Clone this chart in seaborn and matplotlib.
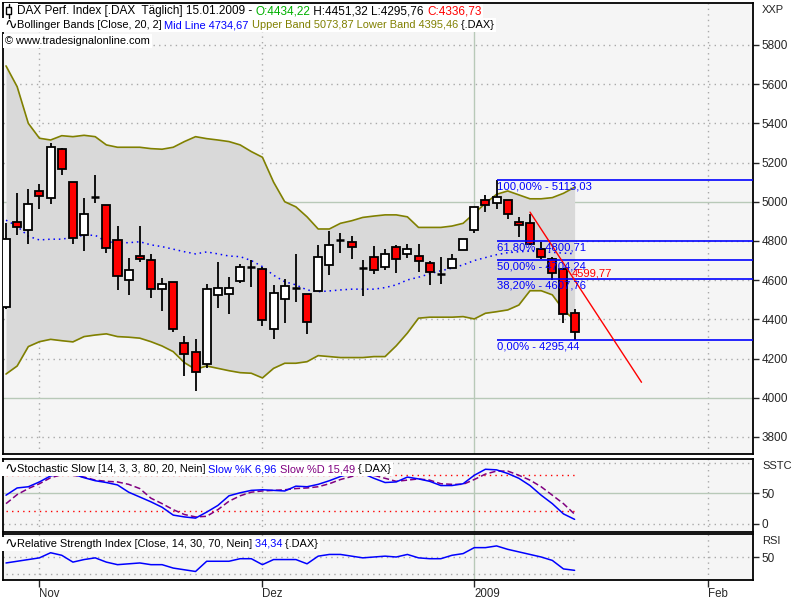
import numpy as np
import pandas as pd
import matplotlib
matplotlib.use("Agg")
import matplotlib.pyplot as plt
import seaborn as sns
from matplotlib.patches import Rectangle
from matplotlib.lines import Line2D

sns.set_style("white")
plt.rcParams['font.family'] = ['Liberation Sans', 'DejaVu Sans']

# ---------------- data (trading days 29.10.2008 .. 15.01.2009) ----------------
opens = [4463, 4897, 4855, 5054, 5018, 5268, 5099, 4829, 5023, 4982,
         4804, 4600, 4722, 4702, 4557, 4589, 4278, 4232, 4171, 4523,
         4528, 4594, 4668, 4656, 4350, 4506, 4562, 4528, 4547, 4676,
         4807, 4793, 4664, 4719, 4666, 4768, 4732, 4724, 4690, 4633,
         4661, 4752, 4857, 5009, 4992, 5009, 4897, 4894, 4761, 4706,
         4656, 4434.22]
highs = [4892, 5043, 5064, 5089, 5298, 5272, 5102, 5018, 5137, 4985,
         4877, 4712, 4877, 4732, 4610, 4589, 4313, 4298, 4581, 4693,
         4615, 4683, 4702, 4666, 4575, 4604, 4733, 4530, 4780, 4852,
         4843, 4825, 4703, 4776, 4758, 4780, 4785, 4785, 4700, 4717,
         4732, 4809, 4972, 5035, 5113, 5009, 4920, 4937, 4795, 4720,
         4660, 4451.32]
lows = [4455, 4829, 4783, 4965, 4991, 5137, 4783, 4751, 4996, 4740,
        4552, 4526, 4694, 4511, 4444, 4337, 4113, 4036, 4154, 4457,
        4426, 4587, 4567, 4368, 4302, 4380, 4490, 4324, 4545, 4624,
        4740, 4708, 4521, 4630, 4653, 4639, 4715, 4642, 4573, 4581,
        4661, 4752, 4839, 4947, 4961, 4914, 4818, 4780, 4706, 4601,
        4380, 4295.76]
closes = [4809, 4872, 4987, 5028, 5278, 5166, 4814, 4937, 5023, 4763,
          4620, 4651, 4710, 4557, 4579, 4353, 4222, 4130, 4554, 4559,
          4559, 4666, 4668, 4395, 4533, 4570, 4562, 4385, 4717, 4778,
          4807, 4767, 4664, 4654, 4732, 4707, 4759, 4697, 4640, 4633,
          4706, 4809, 4972, 4983, 5023, 4937, 4882, 4785, 4720, 4635,
          4426, 4336.73]
upper_band = [5693, 5587, 5400, 5324, 5315, 5337, 5332, 5339, 5332, 5290,
              5278, 5278, 5278, 5271, 5268, 5278, 5307, 5332, 5322, 5315,
              5307, 5290, 5256, 5227, 5100, 5000, 4974, 4923, 4861, 4861,
              4890, 4903, 4920, 4927, 4933, 4933, 4923, 4869, 4869, 4869,
              4876, 4890, 4941, 4992, 5038, 5055, 5035, 5015, 5015, 5021,
              5043, 5073.87]
mid_line = [4906, 4875, 4824, 4805, 4809, 4809, 4819, 4829, 4829, 4796,
            4791, 4791, 4796, 4780, 4771, 4758, 4745, 4734, 4744, 4734,
            4723, 4720, 4700, 4669, 4625, 4592, 4576, 4550, 4541, 4545,
            4550, 4554, 4554, 4554, 4562, 4576, 4601, 4615, 4632, 4648,
            4661, 4678, 4700, 4715, 4730, 4740, 4745, 4748, 4745, 4742,
            4738, 4734.67]
lower_band = [4121, 4162, 4261, 4286, 4298, 4291, 4285, 4312, 4320, 4326,
              4312, 4309, 4304, 4286, 4264, 4235, 4179, 4145, 4162, 4150,
              4138, 4128, 4125, 4101, 4150, 4176, 4176, 4184, 4215, 4210,
              4205, 4205, 4205, 4210, 4210, 4265, 4330, 4406, 4411, 4411,
              4411, 4414, 4402, 4431, 4439, 4448, 4473, 4546, 4546, 4525,
              4448, 4395.46]
slow_k = [47, 59, 61, 69, 79, 82, 82, 76, 71, 68,
          64, 52, 44, 36, 27, 14, 11, 9, 19, 30,
          46, 51, 55, 56, 55, 54, 62, 61, 65, 71,
          78, 83, 83, 75, 68, 69, 77, 74, 70, 63,
          63, 66, 80, 90, 89, 83, 75, 63, 47, 33,
          16, 6.96]
slow_d = [33, 48, 58, 66, 76, 81, 80, 77, 72, 70,
          69, 65, 58, 42, 33, 23, 15, 11, 12, 23,
          37, 46, 52, 54, 55, 56, 58, 59, 61, 66,
          73, 78, 83, 80, 75, 70, 72, 74, 72, 66,
          65, 65, 73, 82, 87, 87, 80, 72, 61, 47,
          33, 15.49]
rsi = [43, 45, 47, 49, 55, 52, 44, 47, 49, 44,
       41, 42, 43, 41, 41, 37, 35, 33, 45, 45,
       45, 48, 48, 41, 47, 47, 47, 42, 51, 53,
       53, 51, 49, 50, 51, 50, 53, 49, 48, 48,
       52, 54, 61, 61, 63, 59, 56, 53, 50, 46,
       36, 34.34]

month_ticks = [3, 23, 42, 63]
month_labels = ["Nov", "Dez", "2009", "Feb"]

fib_levels = [5113.03, 4800.71, 4704.24, 4607.76, 4295.44]
fib_labels = ["100,00% - 5113,03", "61,80% - 4800,71", "50,00% - 4704,24",
              "38,20% - 4607,76", "0,00% - 4295,44"]
fib_start = 44
trend_x = [47, 57]
trend_y = [4947, 4079]
trend_label = "4599,77"
trend_label_pos = (50.7, 4634)

price_ticks = list(range(3800, 5801, 200))

# ---------------- figure ----------------
W, H = 800, 600
fig = plt.figure(figsize=(8, 6), dpi=100)
fig.patch.set_facecolor("white")

def axes_px(left, top, right, bottom):
    return fig.add_axes([left / W, 1 - bottom / H, (right - left) / W, (bottom - top) / H])

ax = axes_px(3, 3, 753, 454)
ax_st = axes_px(3, 459, 753, 532)
ax_rsi = axes_px(3, 534, 753, 580)

BG = "#f5f5f5"
DOT = (0, (1, 3))
GRID_DOT = "#a9a9a9"
GRID_SOLID = "#b8c9b8"
XLIM = (-0.27, 67.0)

idx = np.arange(len(closes))
df = pd.DataFrame({"i": idx, "open": opens, "high": highs, "low": lows, "close": closes,
                   "upper": upper_band, "mid": mid_line, "lower": lower_band,
                   "k": slow_k, "d": slow_d, "rsi": rsi})

for a in (ax, ax_st, ax_rsi):
    a.set_facecolor(BG)
    a.set_xlim(*XLIM)
    for s in a.spines.values():
        s.set_color("black")
        s.set_linewidth(1.3)
    a.yaxis.tick_right()
    a.tick_params(axis='y', direction='out', length=4, width=1, pad=2, labelsize=8.5)
    for t in month_ticks:
        if t == 42:
            a.axvline(t, color=GRID_SOLID, lw=1, zorder=0.5)
        else:
            a.axvline(t, color=GRID_DOT, lw=1, ls=DOT, zorder=0.5)

# ---------------- main panel ----------------
for v in price_ticks:
    if v in (4000, 5000):
        ax.axhline(v, color=GRID_SOLID, lw=1, zorder=0.5)
    else:
        ax.axhline(v, color=GRID_DOT, lw=1, ls=DOT, zorder=0.5)

ax.fill_between(df["i"], df["lower"], df["upper"], color="#d9d9d9", lw=0, zorder=1)
sns.lineplot(data=df, x="i", y="upper", ax=ax, color="#808000", lw=1.2, zorder=2)
sns.lineplot(data=df, x="i", y="lower", ax=ax, color="#808000", lw=1.2, zorder=2)
sns.lineplot(data=df, x="i", y="mid", ax=ax, color="#0000ff", lw=1.1, linestyle=(0, (1, 2.5)), zorder=2)

# candles
ax.vlines(df["i"], df["low"], df["high"], color="black", lw=1.3, zorder=3)
body_bottom = np.minimum(df["open"], df["close"])
body_h = np.abs(df["close"] - df["open"])
doji = body_h < 1
cols = np.where(df["close"] >= df["open"], "white", "#ff0000")
ax.bar(df["i"][~doji], body_h[~doji], bottom=body_bottom[~doji], width=0.72,
       color=cols[~doji], edgecolor="black", linewidth=1.3, zorder=4)
ax.hlines(df["open"][doji], df["i"][doji] - 0.36, df["i"][doji] + 0.36, color="black", lw=1.8, zorder=4)

# fibonacci
for lv, lb in zip(fib_levels, fib_labels):
    ax.hlines(lv, fib_start, XLIM[1], color="#0000ff", lw=1.2, zorder=5)
    ax.annotate(lb, (fib_start, lv), xytext=(0.5, -1.5), textcoords="offset points",
                va="top", ha="left", color="#0000ff", fontsize=8.1, zorder=6)

# trend line
tdf = pd.DataFrame({"x": trend_x, "y": trend_y})
sns.lineplot(data=tdf, x="x", y="y", ax=ax, color="#ff0000", lw=1, zorder=5)
ax.text(trend_label_pos[0], trend_label_pos[1], trend_label, color="#ff0000",
        fontsize=8.1, va="center", ha="left", zorder=6)

ax.set_xlim(*XLIM)
ax.set_ylim(3713, 6014)
ax.set_yticks(price_ticks)
ax.set_yticklabels([str(v) for v in price_ticks])
ax.set_xticks([])
ax.set_xlabel("")
ax.set_ylabel("")

# ---------------- stochastic ----------------
ax_st.axhline(100, color=GRID_DOT, lw=1, ls=DOT, zorder=0.5)
ax_st.axhline(0, color=GRID_DOT, lw=1, ls=DOT, zorder=0.5)
ax_st.axhline(50, color=GRID_SOLID, lw=1, zorder=0.5)
ax_st.hlines([80, 20], 0, len(idx) - 1, color="#ff0000", lw=1, linestyles=[DOT], zorder=1)
sns.lineplot(data=df, x="i", y="d", ax=ax_st, color="#800080", lw=1.1, linestyle=(0, (4, 2)), zorder=2)
sns.lineplot(data=df, x="i", y="k", ax=ax_st, color="#0000ff", lw=1.1, zorder=3)
ax_st.set_xlim(*XLIM)
ax_st.set_ylim(-14, 107)
ax_st.set_yticks([0, 50])
ax_st.set_yticklabels(["0", "50"])
ax_st.set_xticks([])
ax_st.set_xlabel("")
ax_st.set_ylabel("")

# ---------------- RSI ----------------
ax_rsi.axhline(50, color=GRID_DOT, lw=1, ls=DOT, zorder=0.5)
ax_rsi.hlines([70, 30], 0, len(idx) - 1, color=GRID_DOT, lw=1, linestyles=[DOT], zorder=0.5)
sns.lineplot(data=df, x="i", y="rsi", ax=ax_rsi, color="#0000ff", lw=1.1, zorder=3)
ax_rsi.set_xlim(*XLIM)
ax_rsi.set_ylim(23, 77)
ax_rsi.set_yticks([50])
ax_rsi.set_yticklabels(["50"])
ax_rsi.set_xticks(month_ticks)
ax_rsi.set_xticklabels(month_labels, ha="left")
ax_rsi.tick_params(axis='x', direction='out', length=5, width=1, pad=0.5, labelsize=8.3, bottom=True)
ax_rsi.set_xlabel("")
ax_rsi.set_ylabel("")

# right-hand labels
fig.text(762 / W, 1 - 10 / H, "XXP", fontsize=8, va="center", ha="left")
fig.text(762 / W, 1 - 466 / H, "SSTC", fontsize=8, va="center", ha="left")
fig.text(762 / W, 1 - 541 / H, "RSI", fontsize=8, va="center", ha="left")

# ---------------- headers ----------------
fig.canvas.draw()
renderer = fig.canvas.get_renderer()

def header(x_px, y_px, segments, fs=8.5, bg=True):
    x = x_px
    for seg in segments:
        s, col = seg[0], seg[1]
        size = seg[2] if len(seg) > 2 else fs
        t = fig.text(x / W, 1 - y_px / H, s, color=col, fontsize=size, va="center", ha="left", zorder=6)
        bb = t.get_window_extent(renderer)
        x = bb.x1
    if bg:
        r = Rectangle(((x_px - 2) / W, 1 - (y_px + 7) / H), (x - x_px + 4) / W, 14 / H,
                      transform=fig.transFigure, facecolor="white", edgecolor="none", zorder=4)
        fig.add_artist(r)
    return x

# candle icon
fig.add_artist(Line2D([8.5 / W, 8.5 / W], [1 - 4 / H, 1 - 18 / H], color="black", lw=1, zorder=7))
fig.add_artist(Rectangle((6 / W, 1 - 14 / H), 5 / W, 7 / H, transform=fig.transFigure,
                         facecolor="white", edgecolor="black", lw=1, zorder=7))
fig.add_artist(Rectangle((3.5 / W, 1 - 18.5 / H), 14 / W, 16 / H, transform=fig.transFigure,
                         facecolor="white", edgecolor="none", zorder=4))

ICON = ("∿", "black", 11)
header(17, 11, [("DAX Perf. Index [.DAX  Täglich] 15.01.2009 - ", "black"),
                ("O:4434,22", "#00b000"),
                (" H:4451,32 L:4295,76 ", "black"),
                ("C:4336,73", "#ff0000")], fs=8.5)
header(4, 25, [ICON,
               ("Bollinger Bands [Close, 20, 2]", "black"),
               (" Mid Line 4734,67", "#0000ff"),
               (" Upper Band 5073,87 Lower Band 4395,46", "#808000"),
               (" {.DAX}", "black")], fs=7.9)
header(5, 41, [("© www.tradesignalonline.com", "black")], fs=7.9)
header(4, 469, [ICON,
                ("Stochastic Slow [14, 3, 3, 80, 20, Nein]", "black"),
                (" Slow %K 6,96", "#0000ff"),
                (" Slow %D 15,49", "#800080"),
                (" {.DAX}", "black")], fs=7.9)
header(4, 544, [ICON,
                ("Relative Strength Index [Close, 14, 30, 70, Nein]", "black"),
                (" 34,34", "#0000ff"),
                (" {.DAX}", "black")], fs=7.9)

fig.savefig("out.png", dpi=100, facecolor="white")
